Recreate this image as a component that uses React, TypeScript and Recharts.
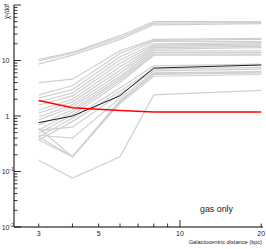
import { LineChart, Line, XAxis, YAxis, Customized } from "recharts";

// galactocentric radii where chi2/dof is evaluated (kpc)
const distances = [3, 4, 6, 8, 20];

// the two highlighted curves
const gasOnly = [1.9, 1.41, 1.26, 1.18, 1.18];
const bestModel = [0.76, 1.0, 2.32, 7.3, 8.3];

const topModels = [
  [10.5, 14, 28, 50, 50],
  [9.8, 13.5, 26, 47, 48],
  [8.6, 12.5, 24, 44, 46],
];
const midModels = [
  [4.0, 4.6, 15, 24, 25],
  [2.4, 3.5, 13.5, 23, 24],
  [2.1, 3.0, 11.7, 22, 22],
  [1.8, 2.6, 10.2, 20, 21],
  [1.58, 2.3, 8.9, 19, 20],
  [1.28, 2.0, 7.7, 18, 19],
  [1.13, 1.8, 6.7, 17, 18],
  [0.96, 1.6, 5.9, 16, 17],
  [0.85, 1.45, 5.2, 15, 15],
  [0.69, 1.3, 4.8, 14, 14],
  [0.56, 1.18, 4.4, 13, 13],
  [0.49, 1.05, 4.0, 12.5, 12.5],
];
const lowModels = [
  [0.42, 0.92, 3.2, 8.0, 8.6],
  [0.37, 0.8, 2.8, 7.0, 7.5],
  [0.55, 0.63, 2.5, 6.5, 7.0],
  [0.45, 0.4, 2.1, 6.0, 6.3],
  [0.6, 0.185, 1.9, 5.6, 6.0],
  [0.42, 0.185, 1.7, 5.2, 5.6],
  [0.37, 0.185, 1.8, 5.8, 6.2],
  [0.16, 0.076, 0.185, 2.4, 2.9],
];

const xTicks = [3, 4, 5, 6, 7, 8, 9, 10, 20];
const xLabels = [3, 5, 10, 20];
const decades = [0.01, 0.1, 1, 10];
const yLabels = [
  { v: 0.01, base: "10", exp: "-2" },
  { v: 0.1, base: "10", exp: "-1" },
  { v: 1, base: "1", exp: "" },
  { v: 10, base: "10", exp: "" },
];

const yTicks = [...decades.flatMap((d) => [1, 2, 3, 4, 5, 6, 7, 8, 9].map((m) => +(m * d).toPrecision(3))), 100];

const greyModels = [...topModels, ...midModels, ...lowModels];
const data = distances.map((d, i) => {
  const row: Record<string, number> = { x: d, red: gasOnly[i], black: bestModel[i] };
  greyModels.forEach((s, j) => (row["g" + j] = s[i]));
  return row;
});

const W = 266, H = 249;
const PLOT = { left: 14, top: 5, right: 263, bottom: 227 };
const FONT = "'Liberation Sans Narrow', 'Liberation Sans', Arial, sans-serif";

const isDecade = (v: number) => Math.abs(Math.log10(v) - Math.round(Math.log10(v))) < 1e-6;

function BottomTick({ x, payload }: any) {
  const len = payload.value === 10 ? 7 : 3.5;
  return (
    <g>
      <line x1={x} x2={x} y1={PLOT.bottom} y2={PLOT.bottom - len} stroke="#000" strokeWidth={0.8} />
      {xLabels.includes(payload.value) && (
        <text x={x} y={236} textAnchor="middle" fontSize={7} fontFamily={FONT} fill="#222">{payload.value}</text>
      )}
    </g>
  );
}

function TopTick({ x, payload }: any) {
  const len = payload.value === 10 ? 7 : 3.5;
  return <line x1={x} x2={x} y1={PLOT.top} y2={PLOT.top + len} stroke="#000" strokeWidth={0.8} />;
}

function LeftTick({ y, payload }: any) {
  const major = isDecade(payload.value);
  const lab = yLabels.find((l) => Math.abs(l.v - payload.value) < 1e-9);
  return (
    <g>
      <line x1={PLOT.left} x2={PLOT.left + (major ? 7 : 3.5)} y1={y} y2={y} stroke="#000" strokeWidth={0.8} />
      {lab && (
        <text x={9.5} y={y + 2.5} textAnchor="end" fontSize={7} fontFamily={FONT} fill="#222">{lab.base}</text>
      )}
      {lab && lab.exp && (
        <text x={9.7} y={y - 0.5} fontSize={4.5} fontFamily={FONT} fill="#222">{lab.exp}</text>
      )}
    </g>
  );
}

function RightTick({ y, payload }: any) {
  const major = isDecade(payload.value);
  return <line x1={PLOT.right} x2={PLOT.right - (major ? 6 : 3)} y1={y} y2={y} stroke="#000" strokeWidth={0.8} />;
}

function Annotations() {
  return (
    <g fontFamily={FONT} fill="#222">
      <text x={200} y={212} fontSize={9.5} textLength={33} lengthAdjust="spacingAndGlyphs">gas only</text>
      <text x={262} y={244} textAnchor="end" fontSize={5.7}>Galactocentric distance (kpc)</text>
      <text transform="translate(9,4) rotate(-90)" textAnchor="end" fontSize={7} textLength={15} lengthAdjust="spacingAndGlyphs">χ²/dof</text>
    </g>
  );
}

export default function App() {
  const xDomain = [2.43, 20.3];
  return (
    <div style={{ position: "absolute", left: 0, top: 0, width: W, height: H, background: "#fff" }}>
      <LineChart width={W} height={H} data={data} margin={{ top: 5, right: 3, bottom: 0, left: 0 }}>
        <XAxis dataKey="x" type="number" scale="log" domain={xDomain} allowDataOverflow ticks={xTicks} interval={0}
          height={22} axisLine={{ stroke: "#000" }} tickLine={false} tick={<BottomTick />} />
        <XAxis xAxisId="t" orientation="top" dataKey="x" type="number" scale="log" domain={xDomain} allowDataOverflow
          ticks={xTicks} interval={0} height={0} axisLine={{ stroke: "#000", strokeWidth: 1.2 }} tickLine={false} tick={<TopTick />} />
        <YAxis type="number" scale="log" domain={[0.01, 100]} allowDataOverflow ticks={yTicks} interval={0}
          width={14} axisLine={{ stroke: "#000" }} tickLine={false} tick={<LeftTick />} />
        <YAxis yAxisId="r" orientation="right" type="number" scale="log" domain={[0.01, 100]} allowDataOverflow ticks={yTicks}
          interval={0} width={0} axisLine={{ stroke: "#000" }} tickLine={false} tick={<RightTick />} />
        {greyModels.map((_, j) => (
          <Line key={j} dataKey={"g" + j} type="linear" stroke="#cfcfcf" strokeWidth={1.2} dot={false} isAnimationActive={false} />
        ))}
        <Line dataKey="black" type="linear" stroke="#1a1a1a" strokeWidth={1} dot={false} isAnimationActive={false} />
        <Line dataKey="red" type="linear" stroke="#ff0000" strokeWidth={1.4} dot={false} isAnimationActive={false} />
        <Customized component={<Annotations />} />
      </LineChart>
    </div>
  );
}
